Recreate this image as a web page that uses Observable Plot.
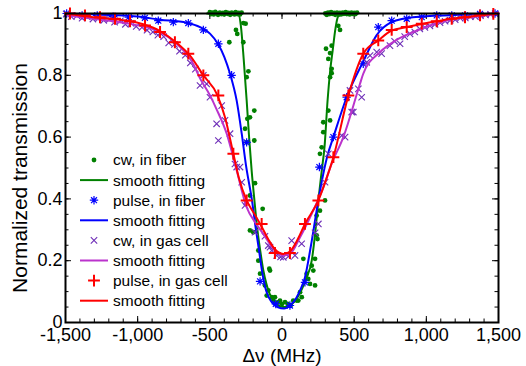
<!DOCTYPE html>
<html><head><meta charset="utf-8">
<script src="https://cdn.jsdelivr.net/npm/d3@7"></script>
<script src="https://cdn.jsdelivr.net/npm/@observablehq/plot@0.6"></script>
<style>
body{margin:0;background:#fff;font-family:"Liberation Sans",Arial,sans-serif;}
#wrap{position:relative;width:526px;height:366px;}
#legend{position:absolute;left:0;top:0;pointer-events:none;}
</style></head><body><div id="wrap"></div>
<script>
// ---------- data (MHz, normalized transmission) ----------
const cwFiber = [
[-500,1.004],[-492,0.998],[-481,1.003],[-473,0.997],[-462,1.005],[-451,1.0],[-443,0.996],[-431,1.003],[-421,0.998],[-409,1.002],[-401,0.997],[-389,1.004],[-378,0.999],[-371,1.002],[-359,0.996],[-348,1.003],[-341,1.0],[-329,0.997],[-321,1.004],[-309,0.998],[-300,1.002],[-291,0.997],[-280,1.003],
[-268,0.969],[-252,0.967],[-319,0.947],[-310,0.934],[-365,0.907],[-268,0.907],[-233,0.813],[-245,0.794],[-192,0.686],[-222,0.664],[-240,0.659],[-256,0.627],[-192,0.589],[-245,0.583],
[-187,0.451],[-222,0.411],[-134,0.368],[-222,0.298],[-199,0.292],[-164,0.233],[-164,0.2],[-88,0.174],[-83,0.168],[-152,0.158],[-118,0.12],[-95,0.104],[-106,0.087],[-71,0.082],[-49,0.082],[-60,0.07],[-30,0.065],[-14,0.071],[0,0.06],[21,0.066],[40,0.06],[60,0.055],
[78,0.071],[102,0.071],[113,0.071],[125,0.098],[137,0.082],[194,0.125],[229,0.12],[182,0.141],[171,0.158],[217,0.168],[206,0.184],[148,0.206],[229,0.206],[246,0.27],[240,0.282],[240,0.346],[263,0.362],[298,0.395],
[263,0.546],[275,0.567],[286,0.616],[286,0.648],[333,0.654],[321,0.686],[333,0.794],[344,0.807],[344,0.821],[321,0.853],[333,0.872],[305,0.886],[344,0.896],[402,0.947],[390,0.96],
[300,1.0],[311,0.996],[319,1.003],[331,0.998],[340,1.004],[349,0.999],[361,1.002],[369,0.996],[381,1.003],[389,0.998],[401,1.002],[409,0.997],[421,1.003],[429,0.999],[441,1.004],[449,0.998],[461,1.002],[469,0.997],[481,1.003],[489,0.999],[501,1.002],[509,0.998],[520,1.003]
];
const cwFiberFit = [
[-520,1.0],[-400,1.0],[-300,0.995],[-285,0.96],[-265,0.85],[-245,0.72],[-228,0.6],[-210,0.49],[-190,0.39],[-173,0.31],[-150,0.23],[-130,0.17],[-105,0.12],[-83,0.09],[-50,0.065],[-10,0.052],[30,0.05],[60,0.057],[90,0.07],[130,0.1],[170,0.145],[206,0.2],[230,0.29],[252,0.395],[275,0.49],[295,0.57],[316,0.72],[335,0.82],[351,0.88],[370,0.95],[388,0.99],[420,1.0],[520,1.0]
];
const pulseFiber = [
[-1492,1.0],[-1385,0.994],[-1280,0.994],[-1170,0.99],[-1062,0.988],[-950,0.986],[-857,0.977],[-753,0.972],[-649,0.969],[-545,0.947],[-441,0.902],[-349,0.8],[-245,0.583],[-152,0.133],[-43,0.06],[55,0.055],[159,0.13],[259,0.503],[356,0.6],[448,0.729],[563,0.837],[667,0.956],[760,0.977],[864,0.983],[968,0.988],[1072,0.994],[1176,0.994],[1268,0.994],[1372,0.999],[1476,1.0]
];
const pulseFiberFit = [
[-1500,1.0],[-1200,0.995],[-1000,0.99],[-845,0.98],[-660,0.97],[-568,0.956],[-499,0.935],[-441,0.9],[-400,0.86],[-360,0.805],[-314,0.718],[-279,0.611],[-250,0.51],[-208,0.395],[-180,0.298],[-159,0.233],[-139,0.168],[-111,0.104],[-69,0.065],[-28,0.049],[14,0.045],[55,0.055],[97,0.078],[125,0.104],[159,0.146],[201,0.25],[240,0.362],[277,0.46],[312,0.535],[356,0.6],[448,0.729],[563,0.845],[656,0.93],[760,0.972],[908,0.988],[1200,0.995],[1500,1.0]
];
const cwGas = [
[-1495,0.998],[-1460,0.99],[-1420,0.993],[-1385,0.985],[-1350,0.99],[-1310,0.982],[-1270,0.986],[-1235,0.978],[-1195,0.982],[-1160,0.972],[-1120,0.976],[-1085,0.965],[-1045,0.968],[-1010,0.958],[-970,0.955],[-935,0.946],[-895,0.94],[-860,0.93],[-820,0.925],[-785,0.905],[-745,0.9],[-710,0.878],[-670,0.865],[-635,0.84],[-600,0.82],[-568,0.767],[-545,0.8],[-522,0.772],[-499,0.729],[-453,0.643],[-441,0.589],[-418,0.702],[-395,0.654],[-360,0.611],[-326,0.513],[-314,0.503],[-291,0.503],[-279,0.454],[-256,0.379],[-245,0.39],[-187,0.292],[-118,0.279],[-95,0.249],[-83,0.244],[-71,0.233],[-37,0.217],[-10,0.212],[9,0.211],[44,0.214],[67,0.265],[90,0.217],[136,0.255],[229,0.29],[252,0.319],[298,0.454],[321,0.546],
[414,0.605],[437,0.6],[471,0.751],[483,0.681],[494,0.681],[529,0.756],[552,0.729],[587,0.842],[610,0.864],[656,0.875],[690,0.87],[748,0.896],[780,0.91],[818,0.902],[850,0.925],[887,0.934],[920,0.94],[955,0.95],[990,0.955],[1025,0.96],[1060,0.965],[1095,0.97],[1130,0.975],[1165,0.978],[1200,0.98],[1235,0.985],[1270,0.986],[1305,0.99],[1340,0.99],[1375,0.993],[1410,0.995],[1445,0.997],[1480,0.998]
];
const cwGasFit = [
[-1500,0.995],[-1308,0.983],[-1100,0.97],[-845,0.94],[-730,0.902],[-615,0.837],[-568,0.79],[-499,0.735],[-453,0.69],[-383,0.611],[-314,0.492],[-245,0.373],[-180,0.32],[-130,0.287],[-49,0.233],[10,0.217],[55,0.222],[125,0.276],[206,0.352],[280,0.43],[345,0.515],[425,0.6],[540,0.772],[563,0.805],[679,0.875],[795,0.915],[910,0.94],[1026,0.961],[1141,0.977],[1303,0.988],[1500,1.0]
];
const pulseGas = [
[-1469,1.0],[-1365,0.994],[-1261,0.988],[-1157,0.983],[-1053,0.975],[-949,0.961],[-845,0.94],[-742,0.907],[-649,0.87],[-545,0.8],[-441,0.735],[-337,0.546],[-245,0.395],[-141,0.319],[-49,0.225],[55,0.225],[159,0.319],[252,0.395],[356,0.535],[460,0.735],[563,0.87],[667,0.913],[760,0.947],[864,0.956],[968,0.967],[1072,0.975],[1176,0.983],[1268,0.988],[1372,0.994],[1464,0.999]
];
const pulseGasFit = [
[-1500,1.0],[-1308,0.988],[-1077,0.977],[-961,0.965],[-845,0.943],[-730,0.905],[-640,0.865],[-545,0.8],[-447,0.735],[-395,0.664],[-337,0.546],[-300,0.47],[-245,0.395],[-190,0.35],[-141,0.31],[-90,0.265],[-49,0.237],[9,0.222],[55,0.23],[110,0.27],[159,0.319],[252,0.395],[300,0.455],[356,0.535],[460,0.735],[563,0.87],[667,0.913],[760,0.945],[864,0.956],[968,0.966],[1072,0.975],[1176,0.983],[1268,0.988],[1372,0.994],[1500,1.0]
];
const xMajor = [-1500,-1000,-500,0,500,1000,1500];
const xMinor = d3.range(-1500,1501,100);
const yMajor = [0,0.2,0.4,0.6,0.8,1];
const yMinor = d3.range(0,1.0001,0.05);
const legendLabels = ["cw, in fiber","smooth fitting","pulse, in fiber","smooth fitting","cw, in gas cell","smooth fitting","pulse, in gas cell","smooth fitting"];
const colors = {green:"#008000", blue:"#0000ff", purpleMk:"#6f2fb8", purpleLn:"#bb33cc", red:"#ff0000"};

// ---------- layout ----------
const W=526,H=366,mL=65,mR=28,mT=13,mB=44;
const fw=W-mL-mR, fh=H-mT-mB;
const maj=6, mnr=3.5;

const asterisk8 = {draw(ctx,size){const r=Math.sqrt(size/Math.PI), s=r*Math.SQRT1_2;
  ctx.moveTo(-r,0);ctx.lineTo(r,0);ctx.moveTo(0,-r);ctx.lineTo(0,r);
  ctx.moveTo(-s,-s);ctx.lineTo(s,s);ctx.moveTo(-s,s);ctx.lineTo(s,-s);}};

const fmtX = d => d3.format(",")(d).replace("\u2212","-");
const fmtY = d => String(d);

const fitLine = (data,color) => Plot.line(data,{x:d=>d[0],y:d=>d[1],stroke:color,strokeWidth:2,curve:"monotone-x"});

const plot = Plot.plot({
  width:W,height:H,marginLeft:mL,marginRight:mR,marginTop:mT,marginBottom:mB,
  style:{fontFamily:"'Liberation Sans',Arial,sans-serif",background:"white",overflow:"visible",color:"black"},
  x:{domain:[-1500,1500]},
  y:{domain:[0,1]},
  marks:[
    // inward ticks on four sides
    Plot.tickX(xMinor,{x:d=>d,insetTop:fh-mnr,stroke:"black"}),
    Plot.tickX(xMinor,{x:d=>d,insetBottom:fh-mnr,stroke:"black"}),
    Plot.tickX(xMajor,{x:d=>d,insetTop:fh-maj,stroke:"black"}),
    Plot.tickX(xMajor,{x:d=>d,insetBottom:fh-maj,stroke:"black"}),
    Plot.tickY(yMinor,{y:d=>d,insetRight:fw-mnr,stroke:"black"}),
    Plot.tickY(yMinor,{y:d=>d,insetLeft:fw-mnr,stroke:"black"}),
    Plot.tickY(yMajor,{y:d=>d,insetRight:fw-maj,stroke:"black"}),
    Plot.tickY(yMajor,{y:d=>d,insetLeft:fw-maj,stroke:"black"}),
    Plot.axisX(xMajor,{tickSize:0,tickPadding:6,tickFormat:fmtX,fontSize:18,label:null}),
    Plot.axisY(yMajor,{tickSize:0,tickPadding:3,tickFormat:fmtY,fontSize:18,label:null}),
    Plot.text(["\u0394\u03bd (MHz)"],{frameAnchor:"bottom",dy:33,fontSize:19,lineAnchor:"middle",textAnchor:"middle"}),
    Plot.text(["Normalized transmission"],{frameAnchor:"left",dx:-45,dy:10,rotate:-90,fontSize:21,lineAnchor:"middle",textAnchor:"middle"}),
    // data
    Plot.dot(cwFiber,{x:d=>d[0],y:d=>d[1],r:2.4,fill:colors.green,stroke:"none"}),
    fitLine(cwFiberFit,colors.green),
    Plot.dot(pulseFiber,{x:d=>d[0],y:d=>d[1],r:4.2,symbol:asterisk8,stroke:colors.blue,strokeWidth:1.2,fill:"none"}),
    fitLine(pulseFiberFit,colors.blue),
    Plot.dot(cwGas,{x:d=>d[0],y:d=>d[1],r:3,symbol:"times",stroke:colors.purpleMk,strokeWidth:1.1}),
    fitLine(cwGasFit,colors.purpleLn),
    Plot.dot(pulseGas,{x:d=>d[0],y:d=>d[1],r:3.9,symbol:"plus",stroke:colors.red,strokeWidth:2}),
    fitLine(pulseGasFit,colors.red),
    Plot.frame({stroke:"black",strokeWidth:2})
  ]
});
const wrap=document.getElementById("wrap");
wrap.appendChild(plot);

// ---------- legend ----------
const leg = d3.select(wrap).append("svg").attr("id","legend").attr("width",W).attr("height",H)
  .style("font-family","'Liberation Sans',Arial,sans-serif");
const rowY = i => 160 + i*20.1;
const mkX = 94, lx1 = 80, lx2 = 108, tx = 113;
legendLabels.forEach((lab,i)=>{
  const y=rowY(i), g=leg.append("g");
  if(i===0) g.append("circle").attr("cx",mkX).attr("cy",y).attr("r",2.4).attr("fill",colors.green);
  if(i===1) g.append("line").attr("x1",lx1).attr("x2",lx2).attr("y1",y).attr("y2",y).attr("stroke",colors.green).attr("stroke-width",2);
  if(i===2) g.append("path").attr("transform",`translate(${mkX},${y})`).attr("d",d3.symbol(asterisk8,Math.PI*4.2*4.2)()).attr("stroke",colors.blue).attr("stroke-width",1.2).attr("fill","none");
  if(i===3) g.append("line").attr("x1",lx1).attr("x2",lx2).attr("y1",y).attr("y2",y).attr("stroke",colors.blue).attr("stroke-width",2);
  if(i===4) g.append("path").attr("transform",`translate(${mkX},${y})`).attr("d",d3.symbol(d3.symbolTimes,Math.PI*9)()).attr("stroke",colors.purpleMk).attr("stroke-width",1.1).attr("fill","none");
  if(i===5) g.append("line").attr("x1",lx1).attr("x2",lx2).attr("y1",y).attr("y2",y).attr("stroke",colors.purpleLn).attr("stroke-width",2);
  if(i===6) g.append("path").attr("transform",`translate(${mkX},${y})`).attr("d",d3.symbol(d3.symbolPlus,Math.PI*3.9*3.9)()).attr("stroke",colors.red).attr("stroke-width",2).attr("fill","none");
  if(i===7) g.append("line").attr("x1",lx1).attr("x2",lx2).attr("y1",y).attr("y2",y).attr("stroke",colors.red).attr("stroke-width",2);
  g.append("text").attr("x",tx).attr("y",y).attr("dy","0.35em").attr("font-size",15.5).attr("fill","black").text(lab);
});
</script></body></html>
